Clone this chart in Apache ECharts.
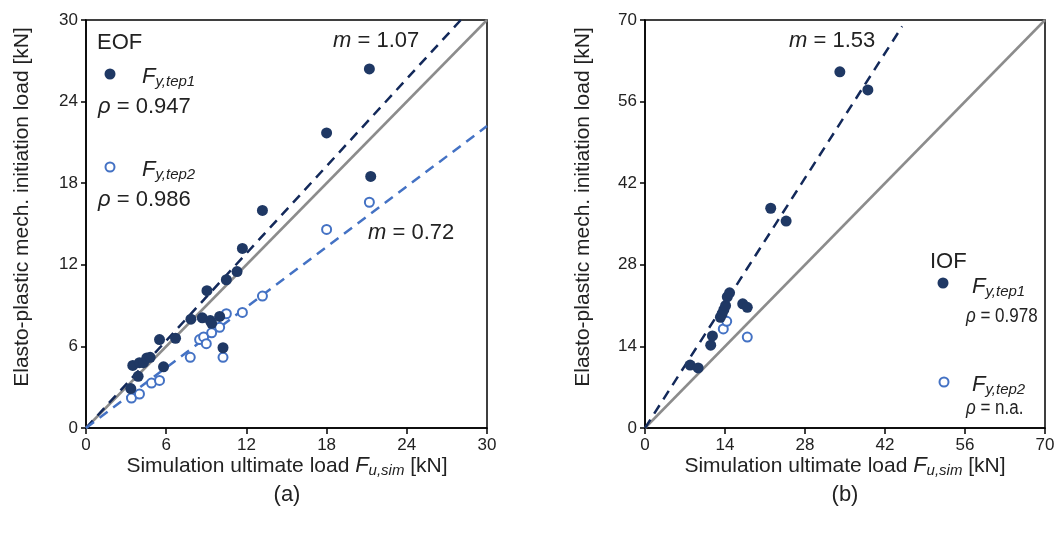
<!DOCTYPE html>
<html><head><meta charset="utf-8">
<script src="https://cdn.jsdelivr.net/npm/echarts@6/dist/echarts.min.js"></script>
<style>html,body{margin:0;padding:0;background:#fff}#c{width:1062px;height:538px}</style>
</head><body><div id="c"></div>
<script>
// ---- data ----
const eofTep1 = [[3.35,2.9],[3.5,4.6],[3.9,3.8],[4.0,4.8],[4.3,4.8],[4.55,5.15],[4.8,5.2],[5.5,6.5],[5.8,4.5],[6.7,6.6],[7.85,8.0],[8.7,8.1],[9.05,10.1],[9.3,7.9],[9.4,7.7],[10.0,8.2],[10.25,5.9],[10.5,10.9],[11.3,11.5],[11.7,13.2],[13.2,16.0],[18.0,21.7],[21.2,26.4],[21.3,18.5]];
const eofTep2 = [[3.4,2.2],[4.0,2.5],[4.9,3.3],[5.5,3.5],[7.8,5.2],[8.5,6.5],[8.8,6.7],[9.0,6.2],[9.4,7.0],[10.0,7.4],[10.25,5.2],[10.5,8.4],[11.7,8.5],[13.2,9.7],[18.0,14.6],[21.2,16.6]];
const iofTep1 = [[7.9,10.8],[9.3,10.3],[11.5,14.2],[11.8,15.8],[13.2,19.0],[13.5,19.6],[13.8,20.3],[14.1,21.0],[14.4,22.5],[14.8,23.2],[17.1,21.3],[17.9,20.7],[22.0,37.7],[24.7,35.5],[34.1,61.1],[39.0,58.0]];
const iofTep2 = [[13.7,17.0],[14.3,18.3],[17.9,15.6]];
const eofRef = [[0,0],[30,30]];
const eofFit1 = [[0,0],[28.04,30]];
const eofFit2 = [[0,0],[30,22.2]];
const iofRef = [[0,0],[70,70]];
const iofFit1 = [[0,0],[45,68.9]];
const eofAxis = {min:0, max:30, interval:6};
const iofAxis = {min:0, max:70, interval:14};
const slopeLabels = {eof1:'1.07', eof2:'0.72', iof1:'1.53'};
const rhoLabels = {eof1:'0.947', eof2:'0.986', iof1:'0.978', iof2:'n.a.'};

// ---- styles ----
const FONT = "'Liberation Sans', Arial, sans-serif";
const TXT = '#222';
const NAVY = '#1f3864';
const NAVYLINE = '#13295a';
const LIGHT = '#4472c4';
const GRAY = '#8c8c8c';

const chart = echarts.init(document.getElementById('c'), null, {renderer:'canvas'});

function axisX(ax, gi){
  return {type:'value', gridIndex:gi, min:ax.min, max:ax.max, interval:ax.interval,
    axisLine:{show:true, onZero:false, lineStyle:{color:'#000', width:1.5}},
    axisTick:{show:true, inside:false, length:6, lineStyle:{color:'#000', width:1.5}},
    axisLabel:{color:TXT, fontSize:17, fontFamily:FONT, margin:9},
    splitLine:{show:false}};
}
function axisY(ax, gi){
  return {type:'value', gridIndex:gi, min:ax.min, max:ax.max, interval:ax.interval,
    axisLine:{show:true, onZero:false, lineStyle:{color:'#000', width:1.5}},
    axisTick:{show:true, inside:false, length:5, lineStyle:{color:'#000', width:1.5}},
    axisLabel:{color:TXT, fontSize:17, fontFamily:FONT, margin:8},
    splitLine:{show:false}};
}
function refLine(data, gi){
  return {type:'line', xAxisIndex:gi, yAxisIndex:gi, data, symbol:'none', silent:true,
    lineStyle:{color:GRAY, width:2.5}, z:1};
}
function fitLine(data, gi, color){
  return {type:'line', xAxisIndex:gi, yAxisIndex:gi, data, symbol:'none', silent:true,
    lineStyle:{color, width:2.5, type:[10,7]}, z:2};
}
function filled(data, gi){
  return {type:'scatter', xAxisIndex:gi, yAxisIndex:gi, data, symbol:'circle', symbolSize:11,
    itemStyle:{color:NAVY, opacity:1}, z:4};
}
function open(data, gi){
  return {type:'scatter', xAxisIndex:gi, yAxisIndex:gi, data, symbol:'circle', symbolSize:9,
    itemStyle:{color:'#fff', borderColor:LIGHT, borderWidth:2, opacity:1}, z:3};
}

const rich = {
  n:{fontSize:21, fontFamily:FONT, color:TXT, lineHeight:24},
  fi:{fontSize:22, fontFamily:FONT, color:TXT, fontStyle:'italic', lineHeight:24},
  s:{fontSize:15, fontFamily:FONT, color:TXT, fontStyle:'italic', lineHeight:13, verticalAlign:'bottom'},
  big:{fontSize:22, fontFamily:FONT, color:TXT, lineHeight:24},
  bi:{fontSize:22, fontFamily:FONT, color:TXT, fontStyle:'italic', lineHeight:24},
  md:{fontSize:20, fontFamily:FONT, color:TXT, lineHeight:24},
  mdi:{fontSize:20, fontFamily:FONT, color:TXT, fontStyle:'italic', lineHeight:24}
};
function txt(x, y, text, align, sx){
  return {type:'text', x, y, silent:true, scaleX: sx || 1,
    style:{text, rich, align:align||'left', verticalAlign:'middle', fontFamily:FONT, fontSize:18, fill:TXT}};
}
function dot(x, y, isOpen){
  return {type:'circle', x, y, silent:true, shape:{r:isOpen?4.5:5.5},
    style: isOpen ? {fill:'#fff', stroke:LIGHT, lineWidth:2} : {fill:NAVY}};
}
const xTitle = '{n|Simulation ultimate load }{fi|F}{s|u,sim}{n| [kN]}';
const yTitle = 'Elasto-plastic mech. initiation load [kN]';

chart.setOption({
  animation:false,
  backgroundColor:'#fff',
  grid:[
    {left:86, top:20, width:401, height:408, show:true, borderColor:'#000', borderWidth:1.5, backgroundColor:'transparent'},
    {left:645, top:20, width:400, height:408, show:true, borderColor:'#000', borderWidth:1.5, backgroundColor:'transparent'}
  ],
  xAxis:[axisX(eofAxis,0), axisX(iofAxis,1)],
  yAxis:[axisY(eofAxis,0), axisY(iofAxis,1)],
  series:[
    refLine(eofRef,0), fitLine(eofFit1,0,NAVYLINE), fitLine(eofFit2,0,LIGHT),
    open(eofTep2,0), filled(eofTep1,0),
    refLine(iofRef,1), fitLine(iofFit1,1,NAVYLINE),
    open(iofTep2,1), filled(iofTep1,1)
  ],
  graphic:[
    // axis titles
    txt(287, 466, xTitle, 'center'),
    txt(845, 466, xTitle, 'center'),
    {type:'text', x:22, y:207, rotation:Math.PI/2, silent:true,
      style:{text:yTitle, align:'center', verticalAlign:'middle', fontFamily:FONT, fontSize:21, fill:TXT}},
    {type:'text', x:583, y:207, rotation:Math.PI/2, silent:true,
      style:{text:yTitle, align:'center', verticalAlign:'middle', fontFamily:FONT, fontSize:21, fill:TXT}},
    txt(287, 495, '{big|(a)}', 'center'),
    txt(845, 495, '{big|(b)}', 'center'),
    // EOF panel legend
    txt(97, 43, '{big|EOF}'),
    dot(110, 74, false),
    txt(142, 77, '{fi|F}{s|y,tep1}'),
    txt(98, 107, '{bi|ρ}{big| = ' + rhoLabels.eof1 + '}'),
    dot(110, 167, true),
    txt(142, 170, '{fi|F}{s|y,tep2}'),
    txt(98, 200, '{bi|ρ}{big| = ' + rhoLabels.eof2 + '}'),
    txt(333, 41, '{bi|m}{big| = ' + slopeLabels.eof1 + '}'),
    txt(368, 233, '{bi|m}{big| = ' + slopeLabels.eof2 + '}'),
    // IOF panel legend
    txt(789, 41, '{bi|m}{big| = ' + slopeLabels.iof1 + '}'),
    txt(930, 262, '{big|IOF}'),
    dot(943, 283, false),
    txt(972, 287, '{fi|F}{s|y,tep1}'),
    txt(966, 316, '{mdi|ρ}{md| = ' + rhoLabels.iof1 + '}', 'left', 0.85),
    dot(944, 382, true),
    txt(972, 385, '{fi|F}{s|y,tep2}'),
    txt(966, 408, '{mdi|ρ}{md| = ' + rhoLabels.iof2 + '}', 'left', 0.85)
  ]
});
</script></body></html>
